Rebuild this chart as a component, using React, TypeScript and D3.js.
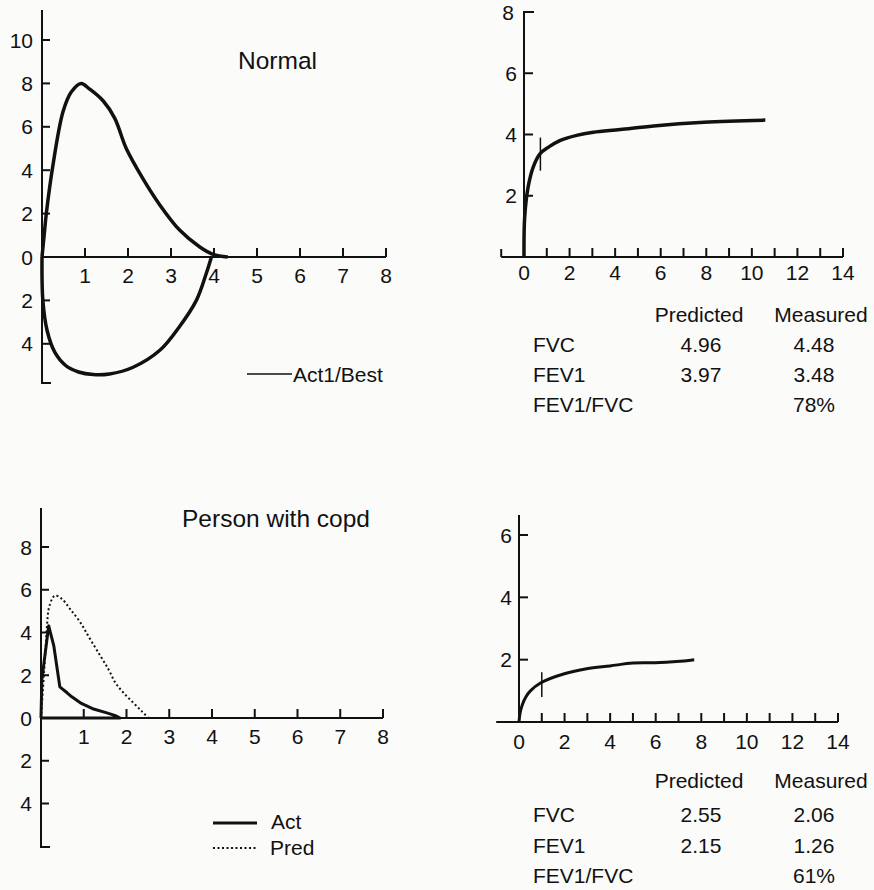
import React from "react";
import * as d3 from "d3";

// Normal flow-volume loop (volume L, flow L/s)
const normalExpVol = [0, 0.05, 0.1, 0.26, 0.49, 0.68, 0.91, 1.1, 1.42, 1.69, 1.96, 2.35, 2.74, 3.2, 3.67, 3.98, 4.32];
const normalExpFlow = [0, 1.0, 2.0, 4.3, 6.7, 7.6, 8.0, 7.75, 7.2, 6.4, 5.0, 3.6, 2.4, 1.24, 0.46, 0.12, 0];
const normalInspVol = [0, 0.02, 0.12, 0.3, 0.55, 0.85, 1.19, 1.57, 2.12, 2.74, 3.2, 3.59, 3.82, 3.94];
const normalInspFlow = [0, -2.0, -3.4, -4.4, -5.0, -5.3, -5.42, -5.39, -5.08, -4.3, -3.2, -2.0, -0.76, 0];

// Normal volume-time (s, L)
const normalTime = [0, 0.03, 0.18, 0.4, 0.7, 1.06, 1.57, 2.31, 3.04, 4.22, 5.69, 7.9, 10.59];
const normalVolume = [0, 1.3, 2.28, 2.93, 3.37, 3.58, 3.8, 3.97, 4.07, 4.16, 4.28, 4.4, 4.47];
const normalFev1Mark = { t: 0.72, lo: 2.82, hi: 3.9 };

// COPD flow-volume
const copdActVol = [0, 0.02, 0.18, 0.3, 0.44, 0.61, 0.72, 0.92, 1.23, 1.54, 1.74, 1.85, 0];
const copdActFlow = [0, 1.8, 4.31, 3.37, 1.46, 1.18, 0.99, 0.71, 0.42, 0.24, 0.11, 0, 0];
const copdPredVol = [0, 0.1, 0.14, 0.18, 0.26, 0.33, 0.49, 0.68, 0.92, 1.15, 1.39, 1.58, 1.74, 1.93, 2.16, 2.36, 2.51];
const copdPredFlow = [0, 3.0, 4.31, 5.1, 5.57, 5.73, 5.57, 5.1, 4.47, 3.69, 2.9, 2.27, 1.65, 1.18, 0.71, 0.31, 0];

// COPD volume-time
const copdTime = [0, 0.05, 0.15, 0.3, 0.5, 0.96, 1.99, 2.97, 3.99, 5.01, 5.96, 6.92, 7.69];
const copdVolume = [0, 0.3, 0.56, 0.8, 1.0, 1.26, 1.55, 1.71, 1.8, 1.89, 1.9, 1.94, 2.0];
const copdFev1Mark = { t: 1.0, lo: 0.8, hi: 1.6 };

// tables
const tableRows = ["FVC", "FEV1", "FEV1/FVC"];
const normalPredicted = ["4.96", "3.97", ""];
const normalMeasured = ["4.48", "3.48", "78%"];
const copdPredicted = ["2.55", "2.15", ""];
const copdMeasured = ["2.06", "1.26", "61%"];

// ticks
const flowXTicks = [1, 2, 3, 4, 5, 6, 7, 8];
const normalFlowYTicks = [-4, -2, 2, 4, 6, 8, 10];
const copdFlowYTicks = [-4, -2, 2, 4, 6, 8];
const timeXTicks = d3.range(1, 15);
const timeXLabels = [0, 2, 4, 6, 8, 10, 12, 14];
const normalTimeYTicks = [2, 4, 6];
const copdTimeYTicks = [2, 4, 6];

const FONT = "'Liberation Sans', Arial, sans-serif";
const INK = "#111";
const FS = 21;

const pts = (xs: number[], ys: number[]) => xs.map((x, i) => [x, ys[i]] as [number, number]);

function FlowPanel(props: any) {
  const { x, y, yTicks, axisTop, axisBottom, title, titleX, titleY, children } = props;
  const x0 = x(0);
  const y0 = y(0);
  return (
    <g>
      <line x1={x0} x2={x0} y1={axisTop} y2={axisBottom} stroke={INK} strokeWidth={2} />
      <line x1={x0 - 1} x2={x0 + 9} y1={axisBottom} y2={axisBottom} stroke={INK} strokeWidth={2} />
      <line x1={x0} x2={x(8)} y1={y0} y2={y0} stroke={INK} strokeWidth={2} />
      {flowXTicks.map((t) => (
        <g key={"xt" + t}>
          <line x1={x(t)} x2={x(t)} y1={y0} y2={y0 - 9} stroke={INK} strokeWidth={2} />
          <text x={x(t)} y={y0 + 26} textAnchor="middle" fontSize={FS} fill={INK}>{t}</text>
        </g>
      ))}
      {yTicks.map((t: number) => (
        <g key={"yt" + t}>
          <line x1={x0} x2={x0 + 8} y1={y(t)} y2={y(t)} stroke={INK} strokeWidth={2} />
          <text x={x0 - 9} y={y(t)} dy="0.36em" textAnchor="end" fontSize={FS} fill={INK}>{Math.abs(t)}</text>
        </g>
      ))}
      <text x={x0 - 9} y={y0} dy="0.36em" textAnchor="end" fontSize={FS} fill={INK}>0</text>
      <text x={titleX} y={titleY} fontSize={24.5} fill={INK}>{title}</text>
      {children}
    </g>
  );
}

function TimePanel(props: any) {
  const { x, y, yTicks, axisTop, flag, leftTick, labelY, children } = props;
  const x0 = x(0);
  const y0 = y(0);
  return (
    <g>
      <line x1={x0} x2={x0} y1={y0} y2={axisTop} stroke={INK} strokeWidth={2} />
      {flag && <line x1={x0 - 1} x2={x0 + 10} y1={axisTop} y2={axisTop} stroke={INK} strokeWidth={2} />}
      <line x1={x(-1)} x2={x(14)} y1={y0} y2={y0} stroke={INK} strokeWidth={2} />
      {leftTick && <line x1={x(-1)} x2={x(-1)} y1={y0} y2={y0 - 8} stroke={INK} strokeWidth={2} />}
      {timeXTicks.map((t) => (
        <line key={"xt" + t} x1={x(t)} x2={x(t)} y1={y0} y2={y0 - 9} stroke={INK} strokeWidth={2} />
      ))}
      {timeXLabels.map((t) => (
        <text key={"xl" + t} x={x(t)} y={y0 + labelY} textAnchor="middle" fontSize={FS} fill={INK}>{t}</text>
      ))}
      {yTicks.map((t: number) => (
        <g key={"yt" + t}>
          <line x1={x0} x2={x0 + 9} y1={y(t)} y2={y(t)} stroke={INK} strokeWidth={2} />
          <text x={x0 - 7} y={y(t)} dy="0.36em" textAnchor="end" fontSize={FS} fill={INK}>{t}</text>
        </g>
      ))}
      {flag && <text x={x0 - 10} y={axisTop} dy="0.36em" textAnchor="end" fontSize={FS} fill={INK}>8</text>}
      {children}
    </g>
  );
}

function Table(props: any) {
  const { top, gaps, predicted, measured } = props;
  const rowsY = [top + gaps[0], top + gaps[0] + gaps[1], top + gaps[0] + gaps[1] + gaps[2]];
  return (
    <g fontSize={FS} fill={INK}>
      <text x={699} y={top} textAnchor="middle">Predicted</text>
      <text x={821} y={top} textAnchor="middle">Measured</text>
      {tableRows.map((r, i) => (
        <g key={r}>
          <text x={533} y={rowsY[i]}>{r}</text>
          <text x={701} y={rowsY[i]} textAnchor="middle">{predicted[i]}</text>
          <text x={814} y={rowsY[i]} textAnchor="middle">{measured[i]}</text>
        </g>
      ))}
    </g>
  );
}

export default function App() {
  // top-left: normal flow-volume
  const xTL = d3.scaleLinear().domain([0, 8]).range([42, 386]);
  const yTL = d3.scaleLinear().domain([0, 10]).range([257, 40]);
  // top-right: normal volume-time
  const xTR = d3.scaleLinear().domain([0, 14]).range([524, 843]);
  const yTR = d3.scaleLinear().domain([0, 8]).range([257, 12]);
  // bottom-left: copd flow-volume
  const xBL = d3.scaleLinear().domain([0, 8]).range([41, 383]);
  const yBL = d3.scaleLinear().domain([0, 8]).range([718, 547]);
  // bottom-right: copd volume-time
  const xBR = d3.scaleLinear().domain([0, 14]).range([519, 838]);
  const yBR = d3.scaleLinear().domain([0, 6]).range([722, 535]);

  const smooth = (xs: any, ys: any) =>
    d3.line().x((d) => xs(d[0])).y((d) => ys(d[1])).curve(d3.curveCatmullRom.alpha(0.5));
  const straight = (xs: any, ys: any) =>
    d3.line().x((d) => xs(d[0])).y((d) => ys(d[1]));

  return (
    <div style={{ position: "absolute", left: 0, top: 0 }}>
      <svg width={874} height={890} style={{ display: "block", background: "#fbfbfa", fontFamily: FONT }}>
        <FlowPanel x={xTL} y={yTL} yTicks={normalFlowYTicks} axisTop={10} axisBottom={383}
          title="Normal" titleX={238} titleY={69}>
          <path d={smooth(xTL, yTL)(pts(normalExpVol, normalExpFlow)) || ""} fill="none" stroke={INK} strokeWidth={3.5} strokeLinejoin="round" />
          <path d={smooth(xTL, yTL)(pts(normalInspVol, normalInspFlow)) || ""} fill="none" stroke={INK} strokeWidth={3.5} strokeLinejoin="round" />
          <line x1={247} x2={292} y1={374} y2={374} stroke={INK} strokeWidth={1.5} />
          <text x={293} y={382} fontSize={FS} fill={INK}>Act1/Best</text>
        </FlowPanel>

        <TimePanel x={xTR} y={yTR} yTicks={normalTimeYTicks} axisTop={12} flag={true} leftTick={true} labelY={23}>
          <path d={smooth(xTR, yTR)(pts(normalTime, normalVolume)) || ""} fill="none" stroke={INK} strokeWidth={3.5} strokeLinejoin="round" />
          <line x1={xTR(normalFev1Mark.t)} x2={xTR(normalFev1Mark.t)} y1={yTR(normalFev1Mark.lo)} y2={yTR(normalFev1Mark.hi)} stroke={INK} strokeWidth={1.5} />
        </TimePanel>
        <Table top={322} gaps={[30, 30, 30]} predicted={normalPredicted} measured={normalMeasured} />

        <FlowPanel x={xBL} y={yBL} yTicks={copdFlowYTicks} axisTop={508} axisBottom={847}
          title="Person with copd" titleX={182} titleY={527}>
          <path d={smooth(xBL, yBL)(pts(copdPredVol, copdPredFlow)) || ""} fill="none" stroke={INK} strokeWidth={2} strokeDasharray="2,2.5" />
          <path d={straight(xBL, yBL)(pts(copdActVol, copdActFlow)) || ""} fill="none" stroke={INK} strokeWidth={3} strokeLinejoin="round" />
          <line x1={213} x2={257} y1={823} y2={823} stroke={INK} strokeWidth={3} />
          <text x={271} y={829} fontSize={FS} fill={INK}>Act</text>
          <line x1={213} x2={258} y1={848} y2={848} stroke={INK} strokeWidth={2} strokeDasharray="2,2.5" />
          <text x={270} y={855} fontSize={FS} fill={INK}>Pred</text>
        </FlowPanel>

        <TimePanel x={xBR} y={yBR} yTicks={copdTimeYTicks} axisTop={515} flag={false} leftTick={false} labelY={27}>
          <path d={smooth(xBR, yBR)(pts(copdTime, copdVolume)) || ""} fill="none" stroke={INK} strokeWidth={3} strokeLinejoin="round" />
          <line x1={xBR(copdFev1Mark.t)} x2={xBR(copdFev1Mark.t)} y1={yBR(copdFev1Mark.lo)} y2={yBR(copdFev1Mark.hi)} stroke={INK} strokeWidth={1.5} />
        </TimePanel>
        <Table top={788} gaps={[34, 31, 30]} predicted={copdPredicted} measured={copdMeasured} />
      </svg>
    </div>
  );
}
